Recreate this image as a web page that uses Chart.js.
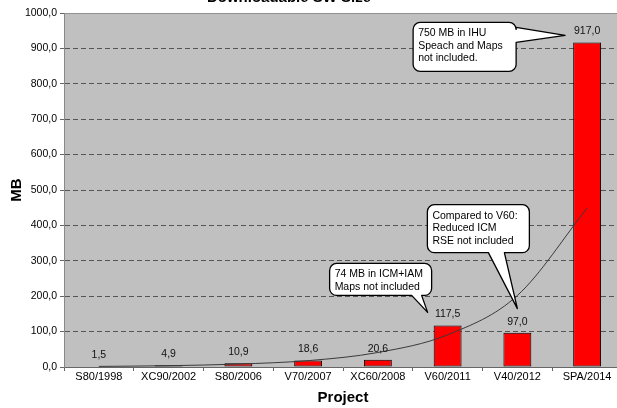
<!DOCTYPE html>
<html><head><meta charset="utf-8">
<script src="https://cdn.jsdelivr.net/npm/chart.js@4.4.1/dist/chart.umd.min.js"></script>
<style>
html,body{margin:0;padding:0;overflow:hidden;background:#fff;width:617px;height:408px}
#wrap{position:absolute;left:0;top:0;width:622px;height:408px}
</style></head><body>
<div id="wrap"><canvas id="c"></canvas></div>
<script>
// ---- data ----
const categories = ['S80/1998','XC90/2002','S80/2006','V70/2007','XC60/2008','V60/2011','V40/2012','SPA/2014'];
const sizeMB = [1.5, 4.9, 10.9, 18.6, 20.6, 117.5, 97.0, 917.0];
const trendMB = [1.7, 3.7, 8.3, 18, 41, 91, 202, 449];
const yTicks = [0,100,200,300,400,500,600,700,800,900,1000];
const chartTitle = 'Downloadable SW Size';
const xTitle = 'Project';
const yTitle = 'MB';
const calloutTexts = [
  ['750 MB in IHU','Speach and Maps','not included.'],
  ['Compared to V60:','Reduced ICM','RSE not included'],
  ['74 MB in ICM+IAM','Maps not included']
];
const calloutBars = [7, 6, 5];

// ---- layout / style ----
const FONT = 'Arial, "Liberation Sans", sans-serif';
const fmt = v => v.toFixed(1).replace('.', ',');
// callout geometry, offsets relative to the bar top it refers to
const calloutGeom = [
  {box:[-174,-20,-71,29], side:'right', base:[-15,0], tip:[-22,-7]},
  {box:[-90,-128,12,-80], side:'bottom', base:[-29,-13], tip:[0,-24]},
  {box:[-118,-62,-16,-30], side:'bottom', base:[-36,-26], tip:[-20,-13]}
];

function calloutPath(ctx, L, T, R, B, r, side, a, b, tx, ty) {
  ctx.beginPath();
  ctx.moveTo(L + r, T);
  ctx.lineTo(R - r, T);
  ctx.arcTo(R, T, R, T + r, r);
  if (side === 'right') { ctx.lineTo(R, a); ctx.lineTo(tx, ty); ctx.lineTo(R, b); }
  ctx.lineTo(R, B - r);
  ctx.arcTo(R, B, R - r, B, r);
  if (side === 'bottom') { ctx.lineTo(b, B); ctx.lineTo(tx, ty); ctx.lineTo(a, B); }
  ctx.lineTo(L + r, B);
  ctx.arcTo(L, B, L, B - r, r);
  ctx.lineTo(L, T + r);
  ctx.arcTo(L, T, L + r, T, r);
  ctx.closePath();
}

const decor = {
  id: 'decor',
  beforeDraw(chart) {
    const {ctx, chartArea: a} = chart;
    ctx.save();
    ctx.fillStyle = '#c0c0c0';
    ctx.fillRect(a.left, a.top, a.right - a.left, a.bottom - a.top);
    ctx.strokeStyle = '#909090';
    ctx.lineWidth = 1;
    ctx.beginPath();
    ctx.moveTo(a.left, a.top + 0.5); ctx.lineTo(a.right, a.top + 0.5);
    ctx.stroke();
    ctx.restore();
  },
  afterDatasetsDraw(chart) {
    const {ctx} = chart;
    const meta = chart.getDatasetMeta(0);
    ctx.save();
    ctx.font = '10.5px ' + FONT;
    ctx.fillStyle = '#111';
    ctx.textAlign = 'center';
    ctx.textBaseline = 'middle';
    meta.data.forEach((el, i) => {
      ctx.fillText(fmt(sizeMB[i]), el.x, el.y - 11);
    });
    ctx.restore();
  },
  afterDraw(chart) {
    const {ctx} = chart;
    const meta = chart.getDatasetMeta(0);
    ctx.save();
    // title (mostly cut off at the top in the reference)
    ctx.font = 'bold 15px ' + FONT;
    ctx.fillStyle = '#000';
    ctx.textAlign = 'center';
    ctx.textBaseline = 'alphabetic';
    ctx.fillText(chartTitle, 289, 2);
    // callouts
    calloutGeom.forEach((g, k) => {
      const el = meta.data[calloutBars[k]];
      const ax = el.x, ay = el.y;
      const L = ax + g.box[0], T = ay + g.box[1], R = ax + g.box[2], B = ay + g.box[3];
      const tx = ax + g.tip[0], ty = ay + g.tip[1];
      let a, b;
      if (g.side === 'right') { a = ay + g.base[0]; b = ay + g.base[1]; }
      else { a = ax + g.base[0]; b = ax + g.base[1]; }
      calloutPath(ctx, L, T, R, B, 7, g.side, a, b, tx, ty);
      ctx.fillStyle = '#fff';
      ctx.fill();
      ctx.strokeStyle = '#000';
      ctx.lineWidth = 1.3;
      ctx.lineJoin = 'round';
      ctx.stroke();
      ctx.fillStyle = '#000';
      ctx.font = '10.5px ' + FONT;
      ctx.textAlign = 'left';
      ctx.textBaseline = 'middle';
      calloutTexts[k].forEach((t, j) => ctx.fillText(t, L + 5, T + 11 + j * 12.6));
    });
    ctx.restore();
  }
};

new Chart(document.getElementById('c'), {
  data: {
    labels: categories,
    datasets: [
      {
        type: 'bar', data: sizeMB, order: 1,
        backgroundColor: '#ff0000', borderColor: '#000', borderWidth: 1, borderSkipped: false,
        barPercentage: 0.4, categoryPercentage: 1.0
      },
      {
        type: 'line', data: trendMB, order: 0,
        borderColor: '#3a3a3a', borderWidth: 1, pointRadius: 0, fill: false,
        cubicInterpolationMode: 'monotone'
      }
    ]
  },
  options: {
    responsive: true,
    maintainAspectRatio: false,
    animation: false,
    events: [],
    layout: {padding: {top: 13, right: 0, bottom: 0, left: 0}},
    plugins: {legend: {display: false}, tooltip: {enabled: false}, title: {display: false}},
    scales: {
      x: {
        type: 'category',
        offset: true,
        grid: {display: true, drawOnChartArea: false, drawTicks: true, tickLength: 4, offset: true, color: '#666'},
        border: {display: true, color: '#666', width: 1},
        ticks: {font: {family: FONT, size: 11}, color: '#000', padding: -1, maxRotation: 0, autoSkip: false},
        title: {display: true, text: xTitle, font: {family: FONT, size: 15, weight: 'bold'}, color: '#000', padding: {top: 0, bottom: 1}},
        afterFit: s => { s.height = 41; }
      },
      y: {
        min: 0, max: 1000,
        afterBuildTicks: s => { s.ticks = yTicks.map(v => ({value: v})); },
        grid: {
          color: c => (c.tick && (c.tick.value === 0 || c.tick.value === 1000)) ? 'rgba(0,0,0,0)' : '#555',
          tickColor: '#666', tickLength: 4, lineWidth: 1
        },
        border: {display: true, color: '#888', width: 1, dash: [5, 3]},
        ticks: {font: {family: FONT, size: 10.5}, color: '#000', padding: 3, callback: v => fmt(v)},
        title: {display: true, text: yTitle, font: {family: FONT, size: 15, weight: 'bold'}, color: '#000', padding: {top: 8, bottom: 0}},
        afterFit: s => { s.width = 64; }
      }
    }
  },
  plugins: [decor]
});
</script>
</body></html>
